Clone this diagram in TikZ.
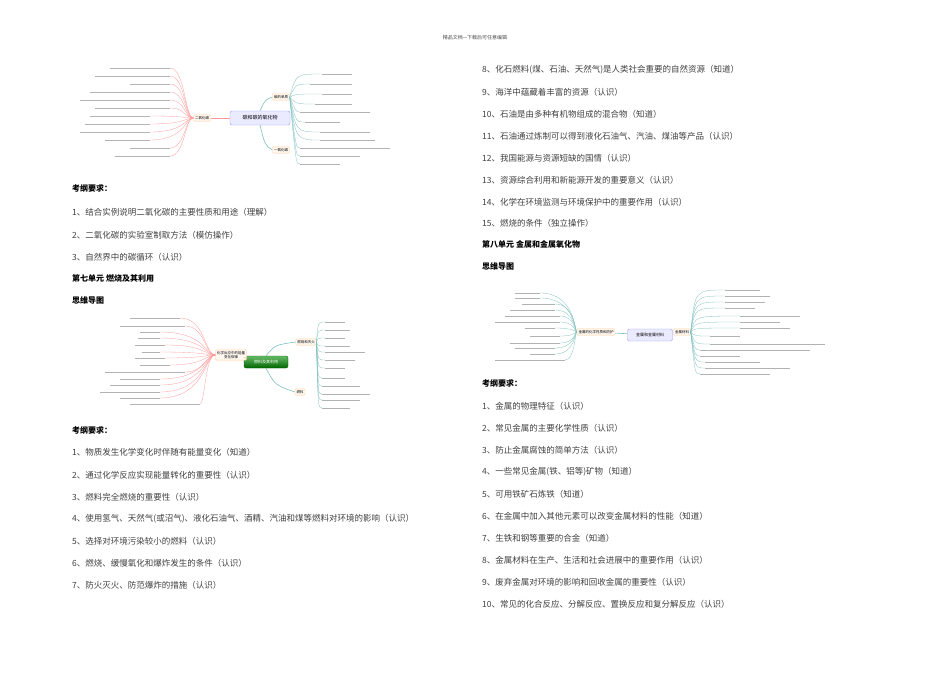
\documentclass[tikz,border=0pt]{standalone}
\usepackage{fontspec}
\setmainfont{Noto Sans CJK SC}
\usetikzlibrary{positioning}
\begin{document}
\begin{tikzpicture}[x=1pt,y=-1pt,
  body/.style={anchor=west,inner sep=0pt,font=\fontsize{8.5}{9}\selectfont,text=black!75},
  head/.style={anchor=west,inner sep=0pt,font=\fontsize{8}{9}\selectfont\bfseries},
  hub/.style={draw=blue!40,fill=blue!8,rounded corners=2pt,font=\fontsize{5}{6}\selectfont,minimum width=60pt,minimum height=14pt},
  hubg/.style={draw=green!40!black,top color=green!55!black!60,bottom color=green!40!black,text=white,rounded corners=2pt,font=\fontsize{4}{5}\selectfont,minimum width=44pt,minimum height=12pt},
  branch/.style={draw=orange!40,fill=orange!5,rounded corners=1pt,font=\fontsize{3.5}{4}\selectfont,inner sep=1.5pt,align=center},
  leaf/.style={draw=black!30,line width=0.3pt},
  link/.style={draw=teal!50,line width=0.6pt},
  linkr/.style={draw=red!40,line width=0.5pt}]
\useasboundingbox (0,0) rectangle (950,672);

% header
\node[inner sep=0pt,font=\fontsize{5}{6}\selectfont,text=black!70] (hdr) at (475,38) {精品文档---下载后可任意编辑};

% ---- mind map 1
\node[hub] (c1) at (260,118) {碳和碳的氧化物};
\node[branch] (b11) at (202,118) {二氧化碳};
\node[branch] (b12) at (281,97) {碳的单质};
\node[branch] (b13) at (281,150) {一氧化碳};
\draw[linkr] (c1) -- (b11);
\draw[link] (c1.north) .. controls (265,100) .. (b12.west);
\draw[link] (c1.south) .. controls (265,145) .. (b13.west);
\foreach \y/\a/\b in {68/110/170,76/95/170,84/130/170,92/90/170,100/80/170,108/95/170,116/90/150,124/85/150,132/80/150,140/105/150,148/130/170,156/115/170}
  {\draw[leaf] (\a,\y) -- (\b,\y);
   \draw[linkr,line width=0.3pt] (\b,\y) .. controls (185,\y) and (185,118) .. (b11.west);}
\foreach \y/\a/\b in {74/322/352,84/310/352,94/322/352,104/315/352,112/300/370,122/305/340,132/320/370,140/320/375,148/300/390,156/300/360,164/300/340}
  {\draw[leaf] (\a,\y) -- (\b,\y);
   \draw[link,line width=0.3pt] (b12.east) .. controls (296,\y) .. (\a,\y);}

% ---- mind map 2
\node[hubg] (c2) at (266,362) {燃料及其利用};
\node[branch] (b21) at (231,355) {化学反应中的能量\\变化规律};
\node[branch] (b22) at (306,342) {燃烧和灭火};
\node[branch] (b23) at (300,392) {燃料};
\draw[linkr] (c2) -- (b21);
\draw[link] (c2.north) .. controls (275,345) .. (b22.west);
\draw[link] (c2.south) .. controls (275,385) .. (b23.west);
\foreach \y/\a/\b in {318/130/180,326/120/185,332/140/160,338/138/160,345/135/165,352/142/160,358/135/165,365/140/170,372/105/185,379/120/160,385/110/160,392/100/160,398/120/160,404/130/200}
  {\draw[leaf] (\a,\y) -- (\b,\y);
   \draw[linkr,line width=0.3pt] (\b,\y) .. controls (205,\y) and (205,355) .. (b21.west);}
\foreach \y/\a/\b in {322/325/345,330/325/350,338/325/345,346/325/350,352/325/365,360/325/355,368/325/345,378/322/345,386/322/360,394/322/370,400/322/360,408/322/350}
  {\draw[leaf] (\a,\y) -- (\b,\y);
   \draw[link,line width=0.3pt] (b22.east) .. controls (318,\y) .. (\a,\y);}

% ---- mind map 3
\node[hub,minimum width=45pt,minimum height=12pt,font=\fontsize{4}{5}\selectfont] (c3) at (650,335) {金属和金属材料};
\node[branch] (b31) at (596,332) {金属的化学性质和防护};
\node[branch] (b32) at (682,332) {金属材料};
\draw[link] (c3) -- (b31);
\draw[link] (c3) -- (b32);
\foreach \y/\a/\b in {293/515/540,298/515/540,304/522/555,310/510/555,316/505/560,322/495/560,328/525/555,336/530/560,343/510/560,348/515/555,354/530/555,360/495/565}
  {\draw[leaf] (\a,\y) -- (\b,\y);
   \draw[link,line width=0.3pt] (\b,\y) .. controls (575,\y) and (575,332) .. (b31.west);}
\foreach \y/\a/\b in {290/725/760,296/725/770,302/725/765,308/725/755,316/740/800,322/740/780,328/740/790,336/710/740,344/710/825,350/700/810,356/700/740,362/705/760,368/705/790,374/700/770}
  {\draw[leaf] (\a,\y) -- (\b,\y);
   \draw[link,line width=0.3pt] (b32.east) .. controls (695,\y) .. (\a,\y);}

% ---- left column
\node[head] (t1) at (72,188) {考纲要求：};
\node[body] (t2) at (72,212) {1、结合实例说明二氧化碳的主要性质和用途（理解）};
\node[body] (t3) at (72,235) {2、二氧化碳的实验室制取方法（模仿操作）};
\node[body] (t4) at (72,257) {3、自然界中的碳循环（认识）};
\node[head] (t5) at (72,278) {第七单元\ 燃烧及其利用};
\node[head] (t6) at (72,300) {思维导图};
\node[head] (t7) at (72,430) {考纲要求：};
\node[body] (t8) at (72,452) {1、物质发生化学变化时伴随有能量变化（知道）};
\node[body] (t9) at (72,475) {2、通过化学反应实现能量转化的重要性（认识）};
\node[body] (t10) at (72,497) {3、燃料完全燃烧的重要性（认识）};
\node[body] (t11) at (72,519) {4、使用氢气、天然气(或沼气)、液化石油气、酒精、汽油和煤等燃料对环境的影响（认识）};
\node[body] (t12) at (72,541) {5、选择对环境污染较小的燃料（认识）};
\node[body] (t13) at (72,563) {6、燃烧、缓慢氧化和爆炸发生的条件（认识）};
\node[body] (t14) at (72,585) {7、防火灭火、防范爆炸的措施（认识）};

% ---- right column
\node[body] (r1) at (482,70) {8、化石燃料(煤、石油、天然气)是人类社会重要的自然资源（知道）};
\node[body] (r2) at (482,92) {9、海洋中蕴藏着丰富的资源（认识）};
\node[body] (r3) at (482,114) {10、石油是由多种有机物组成的混合物（知道）};
\node[body] (r4) at (482,136) {11、石油通过炼制可以得到液化石油气、汽油、煤油等产品（认识）};
\node[body] (r5) at (482,158) {12、我国能源与资源短缺的国情（认识）};
\node[body] (r6) at (482,180) {13、资源综合利用和新能源开发的重要意义（认识）};
\node[body] (r7) at (482,202) {14、化学在环境监测与环境保护中的重要作用（认识）};
\node[body] (r8) at (482,223) {15、燃烧的条件（独立操作）};
\node[head] (r9) at (482,244) {第八单元\ 金属和金属氧化物};
\node[head] (r10) at (482,266) {思维导图};
\node[head] (r11) at (482,383) {考纲要求：};
\node[body] (r12) at (482,406) {1、金属的物理特征（认识）};
\node[body] (r13) at (482,428) {2、常见金属的主要化学性质（认识）};
\node[body] (r14) at (482,450) {3、防止金属腐蚀的简单方法（认识）};
\node[body] (r15) at (482,472) {4、一些常见金属(铁、铝等)矿物（知道）};
\node[body] (r16) at (482,494) {5、可用铁矿石炼铁（知道）};
\node[body] (r17) at (482,516) {6、在金属中加入其他元素可以改变金属材料的性能（知道）};
\node[body] (r18) at (482,538) {7、生铁和钢等重要的合金（知道）};
\node[body] (r19) at (482,560) {8、金属材料在生产、生活和社会进展中的重要作用（认识）};
\node[body] (r20) at (482,582) {9、废弃金属对环境的影响和回收金属的重要性（认识）};
\node[body] (r21) at (482,604) {10、常见的化合反应、分解反应、置换反应和复分解反应（认识）};
\end{tikzpicture}
\end{document}
